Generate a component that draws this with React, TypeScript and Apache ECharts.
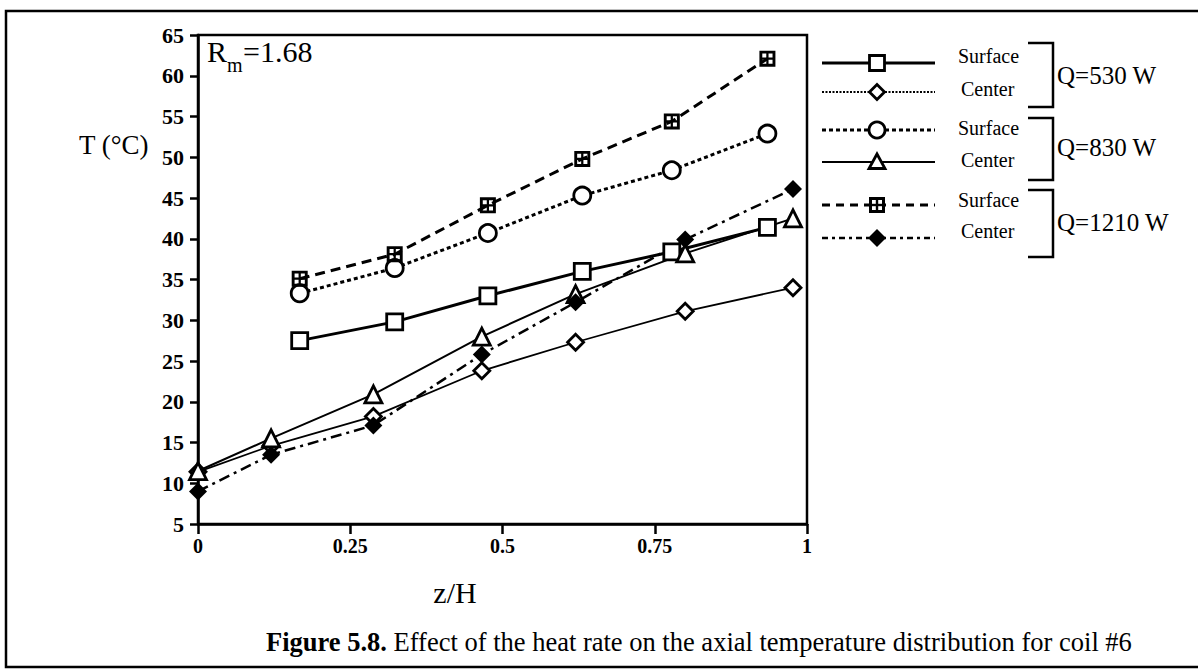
import React, { useEffect, useRef } from "react";
import * as echarts from "echarts";

// ---- data ----
const xSurface = [0.167, 0.323, 0.476, 0.631, 0.778, 0.935];
const xCenter = [0, 0.12, 0.288, 0.466, 0.62, 0.8, 0.977];

const surface530 = [27.5, 29.8, 33.0, 36.0, 38.4, 41.4];
const center530 = [11.4, 14.6, 18.2, 23.8, 27.3, 31.1, 34.0];
const surface830 = [33.3, 36.4, 40.7, 45.3, 48.4, 52.9];
const center830 = [11.5, 15.5, 20.9, 28.0, 33.2, 38.2, 42.5];
const surface1210 = [35.1, 38.1, 44.1, 49.8, 54.4, 62.1];
const center1210 = [9.0, 13.5, 17.1, 25.8, 32.2, 39.9, 46.1];

const yTicks = { min: 5, max: 65, step: 5 };
const xTicks = { min: 0, max: 1, step: 0.25 };

const seriesNames = [
  "Surface Q=530 W",
  "Center Q=530 W",
  "Surface Q=830 W",
  "Center Q=830 W",
  "Surface Q=1210 W",
  "Center Q=1210 W",
];

const FONT = "'Liberation Serif', 'DejaVu Serif', serif";
const HASH_SQUARE =
  "path://M0,0 H10 V10 H0 Z M1.8,1.8 V4.3 H4.3 V1.8 Z M5.7,1.8 V4.3 H8.2 V1.8 Z M1.8,5.7 V8.2 H4.3 V5.7 Z M5.7,5.7 V8.2 H8.2 V5.7 Z";

function pairs(xs: number[], ys: number[]) {
  return ys.map((y, i) => [xs[i], y]);
}

export default function App() {
  const ref = useRef<HTMLDivElement>(null);

  useEffect(() => {
    document.body.style.margin = "0";
    const chart = echarts.init(ref.current!, undefined, { renderer: "svg" });

    const openItem = { color: "#fff", borderColor: "#000", borderWidth: 2.8 };

    const series: any[] = [
      {
        name: seriesNames[0],
        type: "line",
        data: pairs(xSurface, surface530),
        symbol: "rect",
        symbolSize: 16,
        lineStyle: { color: "#000", width: 3, type: "solid" },
        itemStyle: openItem,
      },
      {
        name: seriesNames[1],
        type: "line",
        data: pairs(xCenter, center530),
        symbol: "diamond",
        symbolSize: 16,
        lineStyle: { color: "#000", width: 1.8, type: "solid" },
        itemStyle: openItem,
      },
      {
        name: seriesNames[2],
        type: "line",
        data: pairs(xSurface, surface830),
        symbol: "circle",
        symbolSize: 17,
        lineStyle: { color: "#000", width: 3, type: [4, 3] },
        itemStyle: openItem,
      },
      {
        name: seriesNames[3],
        type: "line",
        data: pairs(xCenter, center830),
        symbol: "triangle",
        symbolSize: 17,
        lineStyle: { color: "#000", width: 2, type: "solid" },
        itemStyle: openItem,
      },
      {
        name: seriesNames[4],
        type: "line",
        data: pairs(xSurface, surface1210),
        symbol: HASH_SQUARE,
        symbolSize: 16,
        lineStyle: { color: "#000", width: 3, type: [10, 6] },
        itemStyle: { color: "#000", borderWidth: 0 },
      },
      {
        name: seriesNames[5],
        type: "line",
        data: pairs(xCenter, center1210),
        symbol: "diamond",
        symbolSize: 18,
        lineStyle: { color: "#000", width: 2.5, type: [11, 5, 3, 5] },
        itemStyle: { color: "#000", borderWidth: 0 },
      },
    ];

    // ---- legend drawn with graphic elements ----
    const legendRows = [63, 92, 130, 162, 205, 238];
    const lx0 = 822, lx1 = 935, mx = 877;
    const lineStyles: any[] = [
      { lineWidth: 3 },
      { lineWidth: 1.8, lineDash: [2, 1.5] },
      { lineWidth: 3, lineDash: [4, 3] },
      { lineWidth: 2 },
      { lineWidth: 3, lineDash: [8, 6] },
      { lineWidth: 2.5, lineDash: [6, 4, 3, 4] },
    ];
    const legendEls: any[] = [];
    legendRows.forEach((y, i) => {
      legendEls.push({
        type: "line",
        shape: { x1: lx0, y1: y, x2: lx1, y2: y },
        style: { stroke: "#000", ...lineStyles[i] },
      });
    });
    const ow = { fill: "#fff", stroke: "#000", lineWidth: 2.8 };
    const r = legendRows;
    legendEls.push(
      { type: "rect", shape: { x: mx - 7.5, y: r[0] - 7.5, width: 15, height: 15 }, style: ow },
      { type: "polygon", shape: { points: [[mx, r[1] - 7.5], [mx + 7.5, r[1]], [mx, r[1] + 7.5], [mx - 7.5, r[1]]] }, style: ow },
      { type: "circle", shape: { cx: mx, cy: r[2], r: 8 }, style: ow },
      { type: "polygon", shape: { points: [[mx, r[3] - 8], [mx + 8, r[3] + 6.5], [mx - 8, r[3] + 6.5]] }, style: ow },
      { type: "rect", shape: { x: mx - 8, y: r[4] - 8, width: 16, height: 16 }, style: { fill: "#000" } },
      { type: "rect", shape: { x: mx - 5, y: r[4] - 5, width: 3.8, height: 3.8 }, style: { fill: "#fff" } },
      { type: "rect", shape: { x: mx + 1.2, y: r[4] - 5, width: 3.8, height: 3.8 }, style: { fill: "#fff" } },
      { type: "rect", shape: { x: mx - 5, y: r[4] + 1.2, width: 3.8, height: 3.8 }, style: { fill: "#fff" } },
      { type: "rect", shape: { x: mx + 1.2, y: r[4] + 1.2, width: 3.8, height: 3.8 }, style: { fill: "#fff" } },
      { type: "polygon", shape: { points: [[mx, r[5] - 9], [mx + 9, r[5]], [mx, r[5] + 9], [mx - 9, r[5]]] }, style: { fill: "#000" } }
    );

    const groups = [
      { top: 43, bottom: 107, s: 56, c: 89, q: 75, label: "Q=530 W" },
      { top: 118, bottom: 180, s: 128, c: 160, q: 147, label: "Q=830 W" },
      { top: 190, bottom: 257, s: 200, c: 231, q: 222, label: "Q=1210 W" },
    ];
    groups.forEach((g) => {
      legendEls.push(
        { type: "text", x: 958, y: g.s, style: { text: "Surface", font: `20px ${FONT}`, fill: "#000", verticalAlign: "middle" } },
        { type: "text", x: 961, y: g.c, style: { text: "Center", font: `20px ${FONT}`, fill: "#000", verticalAlign: "middle" } },
        { type: "polyline", shape: { points: [[1028, g.top], [1053, g.top], [1053, g.bottom], [1028, g.bottom]] }, style: { stroke: "#000", lineWidth: 2.5, fill: null } },
        { type: "text", x: 1057, y: g.q, style: { text: g.label, font: `25px ${FONT}`, fill: "#000", verticalAlign: "middle" } }
      );
    });

    const graphic: any[] = [
      { type: "rect", shape: { x: 6, y: 11, width: 1210, height: 656 }, style: { fill: null, stroke: "#000", lineWidth: 2.5 }, silent: true },
      ...legendEls,
      { type: "text", x: 207, y: 36, style: { text: "R", font: `30px ${FONT}`, fill: "#000" } },
      { type: "text", x: 227, y: 55, style: { text: "m", font: `20px ${FONT}`, fill: "#000" } },
      { type: "text", x: 243, y: 36, style: { text: "=1.68", font: `30px ${FONT}`, fill: "#000" } },
      { type: "text", x: 79, y: 145, style: { text: "T (°C)", font: `27px ${FONT}`, fill: "#000", verticalAlign: "middle" } },
      { type: "text", x: 455, y: 592, style: { text: "z/H", font: `30px ${FONT}`, fill: "#000", align: "center", verticalAlign: "middle" } },
      {
        type: "text",
        x: 266,
        y: 642,
        style: {
          text: "{b|Figure 5.8.} Effect of the heat rate on the axial temperature distribution for coil #6",
          font: `26.5px ${FONT}`,
          fill: "#000",
          verticalAlign: "middle",
          rich: { b: { font: `bold 26.5px ${FONT}`, fill: "#000" } },
        },
      },
    ];

    chart.setOption({
      animation: false,
      backgroundColor: "#fff",
      grid: {
        left: 198,
        right: 1198 - 807,
        top: 35,
        bottom: 671 - 524,
        show: true,
        borderColor: "#000",
        borderWidth: 2.5,
        backgroundColor: "transparent",
      },
      xAxis: {
        type: "value",
        min: xTicks.min,
        max: xTicks.max,
        interval: xTicks.step,
        axisLine: { show: true, lineStyle: { color: "#000", width: 2.5 } },
        axisTick: { show: true, length: 10, lineStyle: { color: "#000", width: 2.5 } },
        axisLabel: { color: "#000", fontFamily: FONT, fontSize: 20, fontWeight: "bold", margin: 12 },
        splitLine: { show: false },
      },
      yAxis: {
        type: "value",
        min: yTicks.min,
        max: yTicks.max,
        interval: yTicks.step,
        axisLine: { show: true, lineStyle: { color: "#000", width: 2.5 } },
        axisTick: { show: true, length: 8, lineStyle: { color: "#000", width: 2.5 } },
        axisLabel: { color: "#000", fontFamily: FONT, fontSize: 22, fontWeight: "bold", margin: 14 },
        splitLine: { show: false },
      },
      series,
      graphic,
    });

    return () => chart.dispose();
  }, []);

  return <div ref={ref} style={{ width: 1198, height: 671 }} />;
}
